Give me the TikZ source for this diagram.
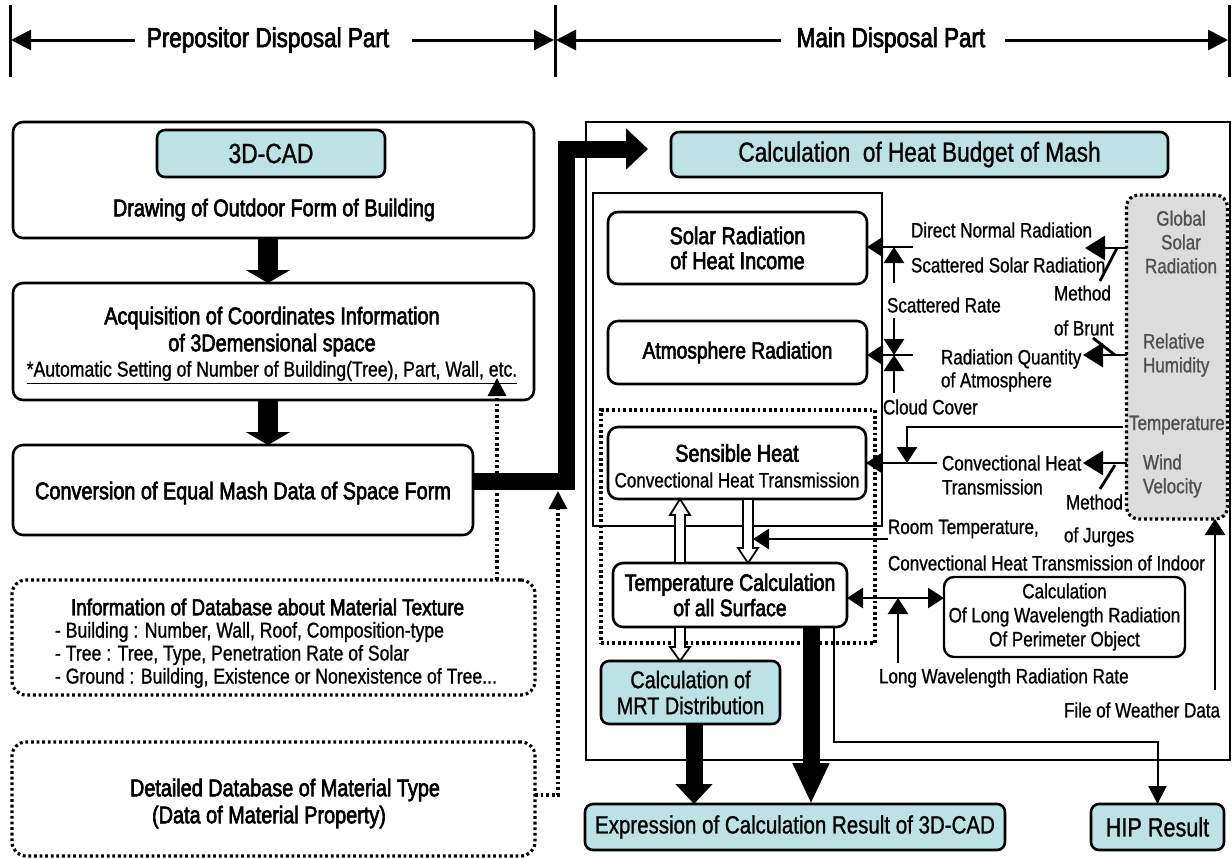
\documentclass[tikz,border=0pt]{standalone}
\usepackage{fontspec}
\setmainfont{Liberation Sans}[FakeStretch=0.82,FakeBold=1]
\newfontfamily\hfont{Liberation Sans}[FakeStretch=0.82,FakeBold=2.5]
\usetikzlibrary{arrows.meta,calc}
\definecolor{teal1}{HTML}{BCE2E5}
\definecolor{gray1}{HTML}{DCDCDC}
\definecolor{gtext}{HTML}{505050}
\newcommand\fszHdr{\hfont\fontsize{13.7}{15}\selectfont}
\newcommand\fszCad{\fontsize{13.9}{15}\selectfont}
\newcommand\fszB{\hfont\fontsize{12.1}{13.5}\selectfont}
\newcommand\fszAuto{\fontsize{10.75}{12}\selectfont}
\newcommand\fszInfoT{\hfont\fontsize{11.5}{12.5}\selectfont}
\newcommand\fszInfo{\fontsize{10.75}{11.5}\selectfont}
\newcommand\fszBud{\fontsize{13.8}{15}\selectfont}
\newcommand\fszS{\hfont\fontsize{12.1}{12.5}\selectfont}
\newcommand\fszSb{\hfont\fontsize{11.7}{12.5}\selectfont}
\newcommand\fszL{\fontsize{10.4}{11.5}\selectfont}
\newcommand\fszG{\fontsize{10.4}{11.9}\selectfont}
\newcommand\fszT{\hfont\fontsize{11.85}{12.6}\selectfont}
\newcommand\fszM{\fontsize{12.1}{13}\selectfont}
\begin{document}
\begin{tikzpicture}[x=0.5pt,y=-0.5pt,
  txt/.style={inner sep=0pt,outer sep=0pt,font=\fszL},
  rb/.style={draw,line width=1.3pt,rounded corners=5pt,inner sep=0pt,outer sep=0pt},
  tb/.style={rb,fill=teal1,rounded corners=4pt},
  dotpat/.style={line width=1.6pt,dash pattern=on 1.4pt off 1.4pt},
  db/.style={draw,dotpat,rounded corners=7pt,inner sep=0pt,outer sep=0pt},
  harr/.style={line width=1.5pt,-{Triangle[length=10pt,width=10pt]}},
  arr/.style={line width=1.4pt,-{Triangle[length=8pt,width=10pt]}},
  barr/.style={line width=1.4pt,-{Triangle[length=10pt,width=12pt]}},
  tarr/.style={line width=1pt,-{Triangle[length=9pt,width=9pt]}},
  slashln/.style={line width=1.4pt},
  fat/.style={line width=10pt,-{Triangle[length=6.5pt,width=22pt]}},
  fatline/.style={line width=8.5pt,-{Triangle[length=11pt,width=20pt]}},
  fatb/.style={line width=8.5pt,-{Triangle[length=10pt,width=18pt]}},
  fatc/.style={line width=8.5pt,-{Triangle[length=20.5pt,width=17pt]}},
  dotarr/.style={dotpat,-{Triangle[length=9pt,width=9pt]}},
  hollow/.style={draw,line width=0.9pt,fill=white}
]
\useasboundingbox (0,0) rectangle (1232,858);

% ---------- header ----------
\node[txt,font=\fszHdr] (hdrL) at (268,40) {Prepositor Disposal Part};
\node[txt,font=\fszHdr] (hdrR) at (891,40) {Main Disposal Part};
\draw[line width=1.5pt] (10,5) -- (10,77);
\draw[line width=1.5pt] (555,5) -- (555,77);
\draw[line width=1.5pt] (1229,5) -- (1229,77);
\coordinate (bL) at (11,40);
\coordinate (bM1) at (554,40);
\coordinate (bM2) at (556,40);
\coordinate (bR) at (1228,40);
\draw[harr] ([xshift=-6pt]hdrL.west) -- (bL);
\draw[harr] ([xshift=11.5pt]hdrL.east) -- (bM1);
\draw[harr] ([xshift=-8pt]hdrR.west) -- (bM2);
\draw[harr] ([xshift=10pt]hdrR.east) -- (bR);

% ---------- left column ----------
\node[rb,minimum width=260.5pt,minimum height=58pt] (A) at (273.5,180) {};
\node[tb,minimum width=114pt,minimum height=23.5pt,font=\fszCad] (cad) at (271,153.5) {3D-CAD};
\node[txt,font=\fszB] (tA) at (274,210) {Drawing of Outdoor Form of Building};

\node[rb,minimum width=260.5pt,minimum height=58.5pt] (B) at (273.5,341.5) {};
\node[txt,font=\fszB,align=center] (tB) at (272,331.5) {Acquisition of Coordinates Information\\of 3Demensional space};
\node[txt,font=\fszAuto] (tB2) at (272,373) {\underline{*Automatic Setting of Number of Building(Tree), Part, Wall, etc.}};

\node[rb,minimum width=230pt,minimum height=45pt] (C) at (243,490) {};
\node[txt,font=\fszB] (tC) at (243,493) {Conversion of Equal Mash Data of Space Form};

\node[db,minimum width=261.5pt,minimum height=57.5pt] (info) at (273.5,637.5) {};
\node[txt,font=\fszInfoT,anchor=west] (tI) at (71,607) {Information of Database about Material Texture};
\node[txt,font=\fszInfo,anchor=west,align=left] (tI2) at (55,655) {- Building : Number, Wall, Roof, Composition-type\\- Tree : Tree, Type, Penetration Rate of Solar\\- Ground : Building, Existence or Nonexistence of Tree...};

\node[db,minimum width=261.5pt,minimum height=57pt] (detail) at (273.5,799) {};
\node[txt,font=\fszB] (tD1) at (285,790) {Detailed Database of Material Type};
\node[txt,font=\fszB] (tD2) at (269,817) {(Data of Material Property)};

\coordinate (ab) at (268,0);
\draw[fat] (A.south -| ab) -- (B.north -| ab);
\draw[fat] (B.south -| ab) -- (C.north -| ab);

% dotted connectors
\coordinate (d1) at (497,378);
\draw[dotarr] (info.north -| d1) -- (d1);
\coordinate (d2) at (558,491);
\coordinate (d3) at (558,795);
\draw[dotarr] (detail.east |- d3) -- (d3) -- (d2);

% ---------- main part ----------
\node[draw,line width=1.2pt,minimum width=322pt,minimum height=319pt,inner sep=0pt] (main) at (908,441) {};
\node[tb,minimum width=248.5pt,minimum height=22.5pt,font=\fszBud] (bud) at (919.5,154.5) {Calculation\ \ of Heat Budget of Mash};

% fat connector from C to heat budget
\coordinate (k1) at (566,481);
\coordinate (k2) at (566,149);
\coordinate (k3) at (648,149);
\draw[fatline] (C.east |- k1) -- (k1) -- (k2) -- (k3);

\node[draw,line width=1pt,minimum width=144.5pt,minimum height=166.5pt,inner sep=0pt] (inner) at (737.5,359.5) {};
\node[draw,dotpat,minimum width=137pt,minimum height=116.5pt,inner sep=0pt] (dotr) at (738,526.5) {};

\node[rb,minimum width=129.5pt,minimum height=36pt,font=\fszS,align=center] (solar) at (737.5,248) {Solar Radiation\\of Heat Income};
\node[rb,minimum width=129.5pt,minimum height=31.5pt,font=\fszSb] (atmos) at (737.5,352.5) {Atmosphere Radiation};
\node[rb,minimum width=129pt,minimum height=36pt] (sens) at (737,463) {};
\node[txt,font=\fszS] (tS1) at (737,453) {Sensible Heat};
\node[txt,font=\fszL] (tS2) at (737,480) {Convectional Heat Transmission};
\node[rb,minimum width=117pt,minimum height=32pt,font=\fszT,align=center] (temp) at (730,595) {Temperature Calculation\\of all Surface};
\node[tb,minimum width=89.5pt,minimum height=31.5pt,font=\fszM,align=center] (mrt) at (690.5,692.5) {Calculation of\\MRT Distribution};
\node[rb,line width=1.2pt,minimum width=120.5pt,minimum height=40pt,font=\fontsize{10.4}{12}\selectfont,align=center] (clw) at (1064.5,617) {Calculation\\Of Long Wavelength Radiation\\Of Perimeter Object};
\node[db,fill=gray1,rounded corners=6pt,minimum width=50.5pt,minimum height=162pt] (gray) at (1177,357) {};
\node[tb,minimum width=210pt,minimum height=23pt,font=\fontsize{12.5}{13}\selectfont] (expr) at (795,827) {Expression of Calculation Result of 3D-CAD};
\node[tb,minimum width=66.5pt,minimum height=23pt,font=\fontsize{13.2}{14}\selectfont] (hip) at (1157.5,827) {HIP Result};

% gray box texts
\node[txt,font=\fszG,align=center,text=gtext] (gt1) at (1181,242) {Global\\Solar\\Radiation};
\node[txt,font=\fszG,align=left,anchor=west,text=gtext] (gt2) at (1143,355) {Relative\\Humidity};
\node[txt,font=\fszL,anchor=west,text=gtext] (gt3) at (1129,425) {Temperature};
\node[txt,font=\fszG,align=left,anchor=west,text=gtext] (gt4) at (1143,476) {Wind\\Velocity};

% labels
\node[txt,anchor=west] (l1) at (911,230) {Direct Normal Radiation};
\node[txt,anchor=west] (l2) at (911,265) {Scattered Solar Radiation};
\node[txt,anchor=west] (l3) at (1054,293) {Method};
\node[txt,anchor=west] (l4) at (1054,328) {of Brunt};
\node[txt,anchor=west] (l5) at (887,305) {Scattered Rate};
\node[txt,anchor=west] (l6) at (941,359) {Radiation Quantity};
\node[txt,anchor=west] (l7) at (941,382) {of Atmosphere};
\node[txt,anchor=west] (l8) at (883,407) {Cloud Cover};
\node[txt,anchor=west] (l9) at (942,463) {Convectional Heat};
\node[txt,anchor=west] (l10) at (942,487) {Transmission};
\node[txt,anchor=west] (l11) at (1066,502) {Method};
\node[txt,anchor=west] (l12) at (888,529) {Room Temperature,};
\node[txt,anchor=west] (l13) at (1064,537) {of Jurges};
\node[txt,anchor=west] (l14) at (888,563) {Convectional Heat Transmission of Indoor};
\node[txt,anchor=west] (l15) at (879,678) {Long Wavelength Radiation Rate};
\node[txt,anchor=west] (l16) at (1064,710) {File of Weather Data};

% right-side connectors
\coordinate (sn) at (913,247);
\draw[arr] (sn) -- (solar.east |- sn);
\coordinate (ss) at (894,283);
\draw[arr] (ss) -- (ss |- sn);
\coordinate (an) at (913,355);
\draw[arr] (an) -- (atmos.east |- an);
\coordinate (sr) at (894,318);
\draw[arr] (sr) -- (sr |- an);
\coordinate (cc) at (894,393);
\draw[arr] (cc) -- (cc |- an);

\coordinate (g1) at (1085,248);
\draw[barr] (gray.west |- g1) -- (g1);
\draw[slashln] (1117,248) -- (1100,281);
\coordinate (g2) at (1083,355);
\draw[barr] (gray.west |- g2) -- (g2);
\draw[slashln] (1093,338) -- (1115,355);
\coordinate (tp0) at (1123,427);
\coordinate (tp) at (907,427);
\coordinate (tq) at (907,463);
\draw[arr] (tp0) -- (tp) -- (tq);
\coordinate (cv) at (937,463);
\draw[arr] (cv) -- (sens.east |- cv);
\coordinate (g3) at (1083,463);
\draw[barr] (gray.west |- g3) -- (g3);
\draw[slashln] (1115,465) -- (1100,489);

% hollow arrows
\draw[hollow] (675,563) -- (675,515) -- (670,515) -- (680,499) -- (690,515) -- (685,515) -- (685,563) -- cycle;
\draw[hollow] (743,499) -- (743,548) -- (738,548) -- (748,563) -- (758,548) -- (753,548) -- (753,499) -- cycle;
\draw[hollow] (675,627) -- (675,647) -- (670,647) -- (680,661) -- (690,647) -- (685,647) -- (685,627) -- cycle;

\coordinate (rt) at (888,539);
\coordinate (rt2) at (753,539);
\draw[arr] (rt) -- (rt2);
\coordinate (dl) at (898,598);
\draw[line width=1.4pt,{Triangle[length=8pt,width=10pt]}-{Triangle[length=8pt,width=10pt]}] (temp.east |- dl) -- (clw.west |- dl);
\coordinate (lr) at (898,663);
\draw[arr] (lr) -- (dl);
\coordinate (wf) at (1215,690);
\draw[arr] (wf) -- (wf |- gray.south);

% outputs
\coordinate (h1) at (834,742);
\draw[tarr] (temp.south -| h1) -- (h1) -- (h1 -| hip.north) -- (hip.north);
\draw[fatb] ([xshift=1.75pt]mrt.south) -- ([xshift=1.75pt]mrt.south |- expr.north);
\coordinate (f1) at (811,626);
\draw[fatc] (f1) -- (f1 |- expr.north);
\end{tikzpicture}
\end{document}
